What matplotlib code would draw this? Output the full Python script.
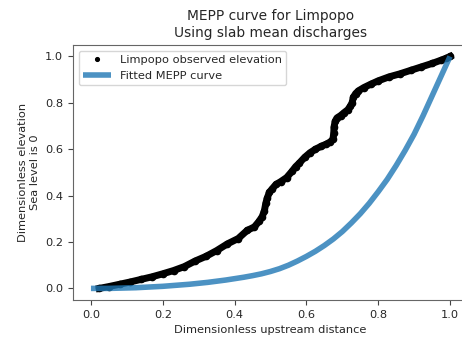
import numpy as np
import matplotlib
matplotlib.use("Agg")
import matplotlib.pyplot as plt

# ---------- data ----------
obs_x = [0.023, 0.05, 0.08, 0.11, 0.14, 0.17, 0.2, 0.23, 0.26, 0.29, 0.32, 0.35,
         0.38, 0.41, 0.435, 0.455, 0.468, 0.477, 0.483, 0.487, 0.491, 0.497,
         0.505, 0.515, 0.528, 0.545, 0.56, 0.57, 0.58, 0.595, 0.61, 0.625,
         0.64, 0.655, 0.667, 0.674, 0.676, 0.677, 0.68, 0.685, 0.695, 0.705,
         0.715, 0.722, 0.727, 0.731, 0.737, 0.745, 0.76, 0.78, 0.8, 0.83,
         0.86, 0.89, 0.92, 0.95, 0.975, 0.99, 1.0]
obs_y = [0.0, 0.008, 0.018, 0.028, 0.039, 0.05, 0.063, 0.077, 0.094, 0.118,
         0.138, 0.163, 0.192, 0.215, 0.25, 0.265, 0.289, 0.31, 0.335, 0.368,
         0.39, 0.415, 0.43, 0.448, 0.46, 0.478, 0.505, 0.525, 0.54, 0.565,
         0.585, 0.6, 0.612, 0.622, 0.632, 0.645, 0.668, 0.697, 0.72, 0.735,
         0.745, 0.758, 0.77, 0.785, 0.80, 0.825, 0.84, 0.852, 0.866, 0.881,
         0.895, 0.912, 0.925, 0.94, 0.955, 0.97, 0.984, 0.993, 1.0]

fit_x = [0.0, 0.025, 0.05, 0.075, 0.1, 0.125, 0.15, 0.175, 0.2, 0.225, 0.25,
         0.275, 0.3, 0.325, 0.35, 0.375, 0.4, 0.425, 0.45, 0.475, 0.5, 0.525,
         0.55, 0.575, 0.6, 0.625, 0.65, 0.675, 0.7, 0.725, 0.75, 0.775, 0.8,
         0.825, 0.85, 0.875, 0.9, 0.925, 0.95, 0.975, 1.0]
fit_y = [0.0, 0.0, 0.0, 0.001, 0.002, 0.003, 0.005, 0.007, 0.009, 0.012, 0.015,
         0.018, 0.022, 0.026, 0.031, 0.036, 0.042, 0.048, 0.055, 0.063, 0.073,
         0.085, 0.1, 0.118, 0.138, 0.16, 0.185, 0.213, 0.245, 0.282, 0.322,
         0.367, 0.417, 0.47, 0.53, 0.595, 0.665, 0.745, 0.83, 0.915, 1.0]

# ---------- style ----------
plt.rcParams["font.size"] = 8.2
plt.rcParams["text.color"] = "#262626"
plt.rcParams["axes.labelcolor"] = "#262626"
plt.rcParams["xtick.color"] = "#444444"
plt.rcParams["ytick.color"] = "#444444"
plt.rcParams["xtick.labelcolor"] = "#262626"
plt.rcParams["ytick.labelcolor"] = "#262626"
plt.rcParams["axes.edgecolor"] = "#666666"

fig = plt.figure(figsize=(4.62, 3.42), dpi=100)
ax = fig.add_axes([0.158, 0.1228, 0.855, 0.746])

# observed elevation: thick band of dots
ax.plot(obs_x, obs_y, "-", color="black", lw=5, label="_nolegend_", zorder=2)
ax.plot(obs_x, obs_y, "k.", ms=9, label="Limpopo observed elevation", zorder=2)
# fitted curve on top
ax.plot(fit_x, fit_y, color="C0", lw=4, alpha=0.8, label="Fitted MEPP curve",
        zorder=3, solid_capstyle="butt")

ax.set_title("MEPP curve for Limpopo\nUsing slab mean discharges", fontsize=9.9)
ax.set_xlabel("Dimensionless upstream distance")
ax.set_ylabel("Dimensionless elevation\nSea level is 0")
ax.set_xticks([0.0, 0.2, 0.4, 0.6, 0.8, 1.0])
ax.set_yticks([0.0, 0.2, 0.4, 0.6, 0.8, 1.0])
ax.spines["right"].set_visible(False)

leg = ax.legend(loc="upper left", markerscale=0.6, handlelength=2.4)

plt.savefig("out.png", dpi=100)
